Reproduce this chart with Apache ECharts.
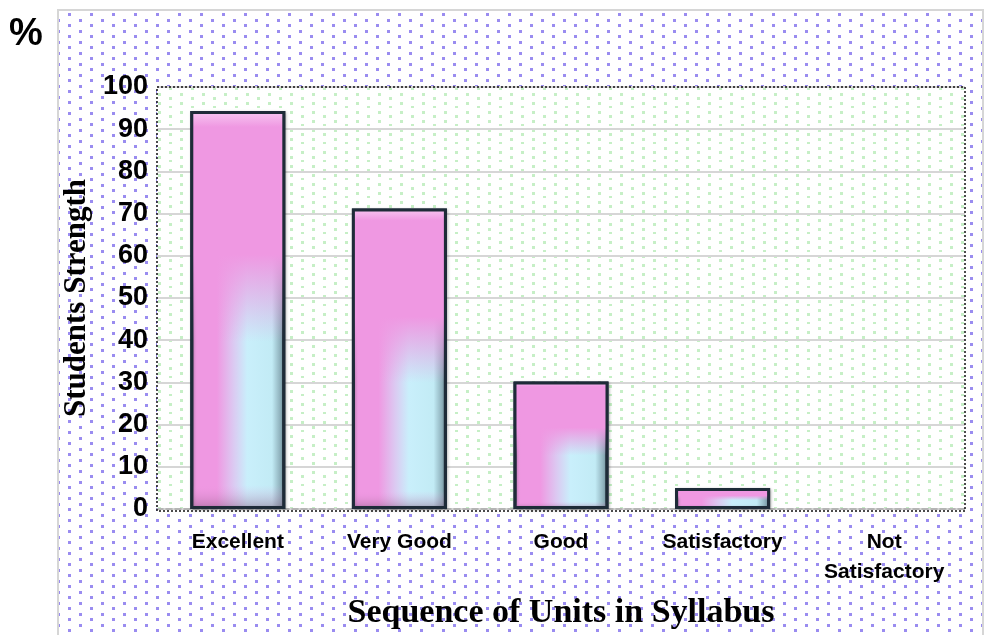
<!DOCTYPE html>
<html>
<head>
<meta charset="utf-8">
<script src="https://cdn.jsdelivr.net/npm/echarts@6/dist/echarts.min.js"></script>
<style>html,body{margin:0;padding:0;background:#fff}#c{width:986px;height:635px}</style>
</head>
<body>
<div id="c"></div>
<script>
const categories = ['Excellent', 'Very Good', 'Good', 'Satisfactory', 'Not\nSatisfactory'];
const values = [94.3, 71.2, 30.2, 5, 0];
const yTicks = [0, 10, 20, 30, 40, 50, 60, 70, 80, 90, 100];

function dotPattern(bg, color, w, h, dots, size) {
  const c = document.createElement('canvas');
  c.width = w; c.height = h;
  const ctx = c.getContext('2d');
  ctx.fillStyle = bg;
  ctx.fillRect(0, 0, w, h);
  ctx.fillStyle = color;
  dots.forEach(d => ctx.fillRect(d[0], d[1], size, size));
  return c;
}
const purple = dotPattern('#ffffff', '#9a8cf0', 22, 22, [[2,2],[2,13],[13,8],[13,19]], 3);
const green = dotPattern('#ffffff', '#c6efc6', 22, 18, [[4,3],[4,12],[15,7],[15,16]], 3);

const hidden = { borderWidth: 0, shadowBlur: 0, opacity: 0 };
const baseData = values.map(v => v === 0 ? { value: v, itemStyle: hidden } : v);
const overData = values.map(v => v === 0 ? { value: v, itemStyle: hidden } : v);

const chart = echarts.init(document.getElementById('c'));
chart.setOption({
  backgroundColor: '#ffffff',
  animation: false,
  graphic: [
    { type: 'rect', z: -10, shape: { x: 58, y: 10, width: 925, height: 630 },
      style: { fill: { image: purple, repeat: 'repeat' }, stroke: '#d6d6d6', lineWidth: 2 } },
    { type: 'rect', z: -9, shape: { x: 157, y: 87, width: 808, height: 424 },
      style: { fill: { image: green, repeat: 'repeat' }, stroke: null } },
    { type: 'rect', z: 50, shape: { x: 157, y: 87, width: 808, height: 424 },
      style: { fill: null, stroke: '#111', lineWidth: 1.5, lineDash: [2, 2] } },
    { type: 'text', left: 9, top: 16, z: 60,
      style: { text: '%', font: 'bold 38px "Liberation Sans", Arial', fill: '#000',
               shadowColor: 'rgba(0,0,0,0.45)', shadowBlur: 3, shadowOffsetX: 2, shadowOffsetY: 2 } }
  ],
  grid: { left: 157, right: 21, top: 87, bottom: 124, show: false },
  xAxis: {
    type: 'category',
    data: categories,
    name: 'Sequence of Units in Syllabus',
    nameLocation: 'middle',
    nameGap: 87,
    nameTextStyle: { fontFamily: '"Liberation Serif", "Times New Roman", serif', fontWeight: 'bold', fontSize: 34, color: '#000' },
    axisLine: { show: true, lineStyle: { color: '#aaa', width: 1.5, type: 'dashed' } },
    axisTick: { show: false },
    axisLabel: { color: '#000', fontFamily: '"Liberation Sans", Arial', fontWeight: 'bold', fontSize: 21, margin: 18, lineHeight: 30, interval: 0 }
  },
  yAxis: {
    type: 'value',
    min: 0, max: 100, interval: 10,
    name: 'Students Strength',
    nameLocation: 'middle',
    nameGap: 57,
    nameTextStyle: { fontFamily: '"Liberation Serif", "Times New Roman", serif', fontWeight: 'bold', fontSize: 31, color: '#000' },
    axisLine: { show: false },
    axisTick: { show: false },
    splitLine: { show: true, lineStyle: { color: '#d6d6d6', width: 2 } },
    axisLabel: { color: '#000', fontFamily: '"Liberation Sans", Arial', fontWeight: 'bold', fontSize: 27, margin: 9,
      formatter: v => yTicks.includes(v) ? String(v) : '' }
  },
  series: [{
    type: 'bar',
    data: baseData,
    barWidth: 95,
    z: 2,
    itemStyle: {
      color: new echarts.graphic.LinearGradient(0, 0, 1, 0, [
        { offset: 0, color: '#f4a6e9' },
        { offset: 0.08, color: '#ef98e2' },
        { offset: 0.28, color: '#ef98e2' },
        { offset: 0.45, color: '#dcc8f1' },
        { offset: 0.6, color: '#c9effb' },
        { offset: 0.86, color: '#c2ebf5' },
        { offset: 1, color: '#6e8c98' }
      ]),
      borderColor: '#1e2b38',
      borderWidth: 3,
      shadowColor: 'rgba(0,0,0,0.25)',
      shadowBlur: 3,
      shadowOffsetX: 1,
      shadowOffsetY: 1
    }
  }, {
    type: 'bar',
    data: overData,
    barWidth: 95,
    barGap: '-100%',
    z: 3,
    silent: true,
    itemStyle: {
      color: new echarts.graphic.LinearGradient(0, 0, 0, 1, [
        { offset: 0, color: 'rgba(247,200,242,1)' },
        { offset: 0.04, color: 'rgba(239,152,226,1)' },
        { offset: 0.36, color: 'rgba(239,152,226,1)' },
        { offset: 0.58, color: 'rgba(239,152,226,0)' },
        { offset: 0.94, color: 'rgba(239,152,226,0)' },
        { offset: 1, color: 'rgba(120,80,110,0.45)' }
      ]),
      borderColor: '#1e2b38',
      borderWidth: 3
    }
  }]
});
</script>
</body>
</html>
